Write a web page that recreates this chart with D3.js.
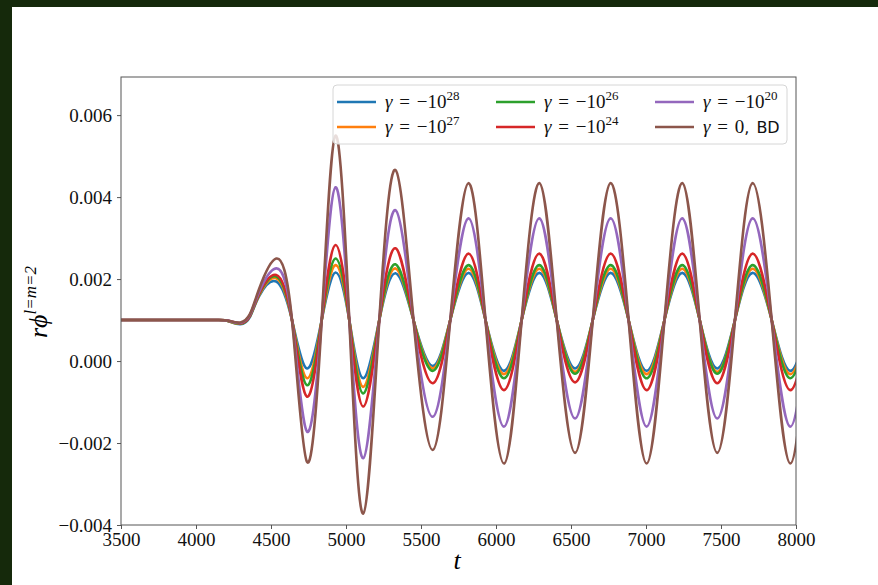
<!DOCTYPE html>
<html>
<head>
<meta charset="utf-8">
<script src="https://cdn.jsdelivr.net/npm/d3@7"></script>
<style>
  html, body { margin: 0; padding: 0; background: #fff; }
  svg { display: block; }
</style>
</head>
<body>
<svg id="chart" width="878" height="585"></svg>
<script>
// key times (extrema and crossings); the last one lies just past the right edge
const times = [3500, 3800, 4000, 4150, 4220, 4295, 4360, 4420, 4535, 4640, 4740, 4838, 4930, 5022, 5115, 5222, 5330, 5450,
  5578, 5695, 5816, 5930, 6053, 6171, 6289, 6405, 6527, 6645, 6764, 6884, 7004, 7123, 7242, 7358,
  7475, 7593, 7711, 7838, 7962, 8085];

const gamma28 = [0.001, 0.001, 0.001, 0.001, 0.00097, 0.0009, 0.00108, 0.00158, 0.00194, 0.001, -0.00018, 0.001, 0.00216, 0.001, -0.00042, 0.001,
  0.00214, 0.001, -0.00012, 0.001, 0.00215, 0.001, -0.00024, 0.001, 0.00215, 0.001, -0.00018, 0.001,
  0.00215, 0.001, -0.00024, 0.001, 0.00215, 0.001, -0.00018, 0.001, 0.00215, 0.001, -0.00024, 0.001];
const gamma27 = [0.001, 0.001, 0.001, 0.001, 0.00097, 0.00091, 0.0011, 0.0016, 0.00202, 0.001, -0.00042, 0.001, 0.00234, 0.001, -0.00063, 0.001,
  0.00226, 0.001, -0.00018, 0.001, 0.00225, 0.001, -0.00032, 0.001, 0.00225, 0.001, -0.00026, 0.001,
  0.00225, 0.001, -0.00032, 0.001, 0.00225, 0.001, -0.00026, 0.001, 0.00225, 0.001, -0.00032, 0.001];
const gamma26 = [0.001, 0.001, 0.001, 0.001, 0.00097, 0.00091, 0.0011, 0.00162, 0.00206, 0.001, -0.00059, 0.001, 0.0025, 0.001, -0.00079, 0.001,
  0.00236, 0.001, -0.00024, 0.001, 0.00234, 0.001, -0.00042, 0.001, 0.00234, 0.001, -0.00031, 0.001,
  0.00234, 0.001, -0.00042, 0.001, 0.00234, 0.001, -0.00031, 0.001, 0.00234, 0.001, -0.00042, 0.001];
const gamma24 = [0.001, 0.001, 0.001, 0.001, 0.00098, 0.00092, 0.00111, 0.00164, 0.0021, 0.001, -0.00087, 0.001, 0.00283, 0.001, -0.00111, 0.001,
  0.00275, 0.001, -0.00054, 0.001, 0.00262, 0.001, -0.00071, 0.001, 0.00262, 0.001, -0.00052, 0.001,
  0.00262, 0.001, -0.00071, 0.001, 0.00262, 0.001, -0.00054, 0.001, 0.00262, 0.001, -0.00071, 0.001];
const gamma20 = [0.001, 0.001, 0.001, 0.001, 0.00098, 0.00093, 0.00113, 0.00168, 0.00226, 0.001, -0.00172, 0.001, 0.00424, 0.001, -0.00237, 0.001,
  0.00368, 0.001, -0.00136, 0.001, 0.00348, 0.001, -0.0016, 0.001, 0.00348, 0.001, -0.0014, 0.001,
  0.00348, 0.001, -0.0016, 0.001, 0.00348, 0.001, -0.0014, 0.001, 0.00348, 0.001, -0.0016, 0.001];
const gammaBD = [0.001, 0.001, 0.001, 0.001, 0.00098, 0.00094, 0.00115, 0.00175, 0.0025, 0.001, -0.00246, 0.001, 0.0055, 0.001, -0.00372, 0.001,
  0.00466, 0.001, -0.00217, 0.001, 0.00434, 0.001, -0.0025, 0.001, 0.00434, 0.001, -0.00224, 0.001,
  0.00434, 0.001, -0.0025, 0.001, 0.00434, 0.001, -0.00224, 0.001, 0.00434, 0.001, -0.0025, 0.001];

const exponents = ["28", "27", "26", "24", "20", null];
const colors = ["#1f77b4", "#ff7f0e", "#2ca02c", "#d62728", "#9467bd", "#8c564b"];
const xTicks = [3500, 4000, 4500, 5000, 5500, 6000, 6500, 7000, 7500, 8000];
const yTicks = [-0.004, -0.002, 0, 0.002, 0.004, 0.006];

const series = [gamma28, gamma27, gamma26, gamma24, gamma20, gammaBD].map((vals, i) => ({
  exp: exponents[i],
  color: colors[i],
  points: vals.map((v, j) => [times[j], v])
}));

const W = 878, H = 585;
const margin = {top: 77, right: 82, bottom: 60, left: 121};
const serif = "'Liberation Serif', 'DejaVu Serif', serif";

const svg = d3.select("#chart");

// dark frame around the picture
svg.append("rect").attr("x", 0).attr("y", 0).attr("width", W).attr("height", 7).attr("fill", "#15290b");
svg.append("rect").attr("x", 0).attr("y", 0).attr("width", 12).attr("height", H).attr("fill", "#15290b");

const x = d3.scaleLinear().domain([3500, 8000]).range([margin.left, W - margin.right]);
const y = d3.scaleLinear().domain([-0.004, 0.00693]).range([H - margin.bottom, margin.top]);

svg.append("clipPath").attr("id", "plot")
  .append("rect")
    .attr("x", margin.left).attr("y", margin.top)
    .attr("width", W - margin.left - margin.right)
    .attr("height", H - margin.top - margin.bottom);

const line = d3.line()
  .x(d => x(d[0]))
  .y(d => y(d[1]))
  .curve(d3.curveNatural);

svg.append("g")
    .attr("clip-path", "url(#plot)")
    .attr("fill", "none")
    .attr("stroke-width", 2.6)
    .attr("stroke-linejoin", "round")
  .selectAll("path")
  .data(series)
  .join("path")
    .attr("stroke", d => d.color)
    .attr("d", d => line(d.points));

// axes
const xAxis = g => g
    .attr("transform", `translate(0,${H - margin.bottom})`)
    .call(d3.axisBottom(x).tickValues(xTicks).tickSize(4).tickPadding(4).tickFormat(d => d))
    .call(g => g.select(".domain").remove());

const yAxis = g => g
    .attr("transform", `translate(${margin.left},0)`)
    .call(d3.axisLeft(y).tickValues(yTicks).tickSize(4).tickPadding(5)
      .tickFormat(d => (d < 0 ? "\u2212" : "") + Math.abs(d).toFixed(3)))
    .call(g => g.select(".domain").remove());

svg.append("g").call(xAxis);
svg.append("g").call(yAxis);

svg.selectAll(".tick line").attr("stroke", "#555");
svg.selectAll(".tick text")
    .attr("font-family", serif)
    .attr("font-size", 19)
    .attr("fill", "#111");

// frame
svg.append("rect")
    .attr("x", margin.left).attr("y", margin.top)
    .attr("width", W - margin.left - margin.right)
    .attr("height", H - margin.top - margin.bottom)
    .attr("fill", "none")
    .attr("stroke", "#555")
    .attr("stroke-width", 1);

// axis labels
svg.append("text")
    .attr("x", 457).attr("y", 569)
    .attr("text-anchor", "middle")
    .attr("font-family", serif)
    .attr("font-style", "italic")
    .attr("font-size", 26)
    .text("t");

const ylab = svg.append("text")
    .attr("transform", "translate(47,302) rotate(-90)")
    .attr("text-anchor", "middle")
    .attr("font-family", serif)
    .attr("font-style", "italic")
    .attr("font-size", 26);
ylab.append("tspan").text("r\u03D5");
ylab.append("tspan").attr("dy", -11).attr("font-size", 17).text("l=m=2");

// legend
const legend = svg.append("g");
legend.append("rect")
    .attr("x", 333).attr("y", 85)
    .attr("width", 454).attr("height", 59)
    .attr("rx", 4)
    .attr("fill", "#fff").attr("fill-opacity", 0.8)
    .attr("stroke", "#d6d6d6");

const colX = [337, 496, 655];
const rowY = [102, 127];

const item = legend.selectAll("g")
  .data(series)
  .join("g")
    .attr("transform", (d, i) => `translate(${colX[Math.floor(i / 2)]},${rowY[i % 2]})`);

item.append("line")
    .attr("x1", 0).attr("x2", 39)
    .attr("stroke", d => d.color)
    .attr("stroke-width", 2.6);

const label = item.append("text")
    .attr("x", 48).attr("y", 6)
    .attr("font-family", serif)
    .attr("font-size", 19)
    .attr("fill", "#111")
    .attr("word-spacing", 2)
    .attr("xml:space", "preserve");

label.append("tspan").attr("font-style", "italic").text("\u03B3");
label.append("tspan").text(d => d.exp ? " = \u221210" : " = 0");
label.filter(d => d.exp).append("tspan")
    .attr("dy", -8).attr("font-size", 13)
    .text(d => d.exp);
label.filter(d => !d.exp).append("tspan")
    .attr("font-family", "'DejaVu Sans', sans-serif")
    .attr("font-size", 16)
    .text(", BD");
</script>
</body>
</html>
